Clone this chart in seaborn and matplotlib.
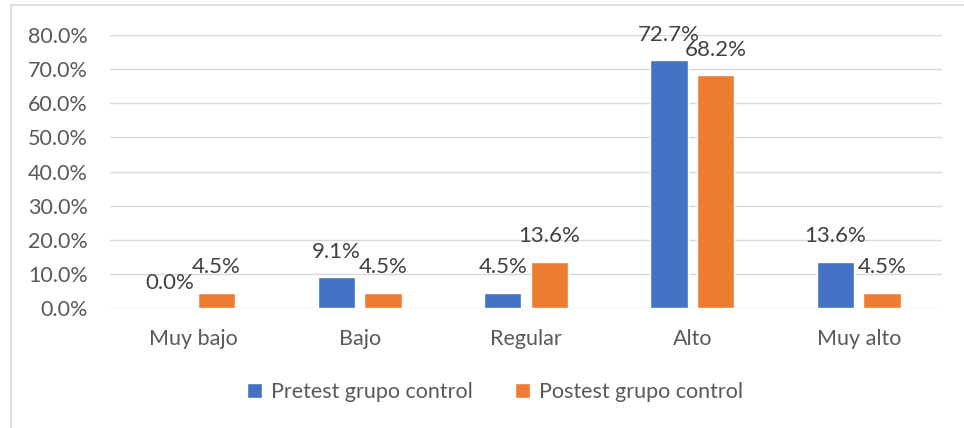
import pandas as pd
import seaborn as sns
import matplotlib.pyplot as plt
from matplotlib.ticker import PercentFormatter
from matplotlib.patches import Rectangle

categorias = ["Muy bajo", "Bajo", "Regular", "Alto", "Muy alto"]
pretest = [0.0, 9.1, 4.5, 72.7, 13.6]
postest = [4.5, 4.5, 13.6, 68.2, 4.5]
series = ["Pretest grupo control", "Postest grupo control"]
colores = ["#4472C4", "#ED7D31"]

df = pd.DataFrame({
    "categoria": categorias * 2,
    "valor": pretest + postest,
    "serie": [series[0]] * 5 + [series[1]] * 5,
})

sns.set_style("white")
plt.rcParams['font.family'] = ['Lato', 'DejaVu Sans']
gris = "#595959"
fs = 15.5

fig = plt.figure(figsize=(9.64, 4.28), dpi=100)
ax = fig.add_axes([110 / 964, 1 - 308 / 428, 832 / 964, 273 / 428])

sns.barplot(data=df, x="categoria", y="valor", hue="serie", palette=colores,
            width=0.56, gap=0.2, ax=ax, saturation=1)

for cont in ax.containers:
    ax.bar_label(cont, fmt="%.1f%%", padding=11, fontsize=16, color="#404040")

ax.set_ylim(0, 80)
ax.set_yticks(range(0, 81, 10))
ax.yaxis.set_major_formatter(PercentFormatter(decimals=1))
ax.grid(axis="y", color="#d9d9d9", linewidth=1)
ax.set_axisbelow(True)
for s in ax.spines.values():
    s.set_visible(False)
ax.set_xlabel("")
ax.set_ylabel("")
ax.tick_params(axis="both", length=0, labelsize=fs, labelcolor=gris)
ax.tick_params(axis="x", pad=15)
ax.tick_params(axis="y", pad=16)

ax.legend(loc="center", bbox_to_anchor=(495 / 964, 1 - 392 / 428),
          bbox_transform=fig.transFigure, ncol=2, frameon=False,
          fontsize=fs, labelcolor=gris, handlelength=0.7, handleheight=0.7,
          handletextpad=0.4, columnspacing=2.0)

fig.add_artist(Rectangle((11 / 964, -0.1), 1.1, 1 - 5 / 428 + 0.1,
                         transform=fig.transFigure, fill=False,
                         edgecolor="#d9d9d9", linewidth=1.2))

fig.savefig("out.png", dpi=100)
